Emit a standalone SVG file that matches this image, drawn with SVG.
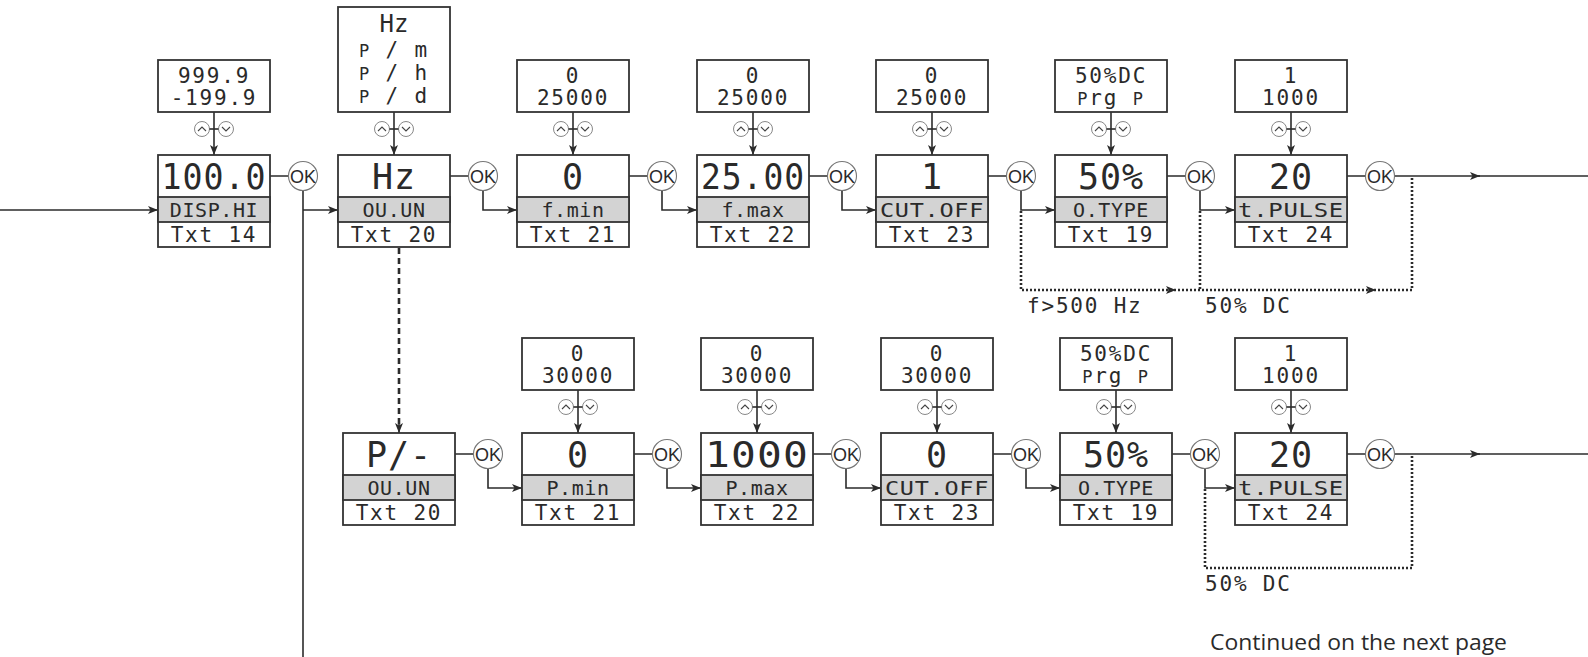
<svg xmlns="http://www.w3.org/2000/svg" width="1588" height="657" viewBox="0 0 1588 657">
<style>
.bx{fill:#fff;stroke:#333;stroke-width:1.8}
.bd{fill:#d3d3d3;stroke:#333;stroke-width:1.8}
.mono{font-family:"DejaVu Sans Mono","Liberation Mono",monospace;fill:#2a2a2a;text-anchor:middle}
.val{font-size:35px;letter-spacing:1px}
.gt{font-size:20px;letter-spacing:0.6px}
.tx{font-size:21px;letter-spacing:1.8px}
.tp{font-size:21px;letter-spacing:1.8px}
.lb{font-family:"DejaVu Sans Mono","Liberation Mono",monospace;fill:#2a2a2a;font-size:21px;letter-spacing:1.8px}
.sc{font-size:17px}
.ln{fill:none;stroke:#2b2b2b;stroke-width:1.6}
.dash{fill:none;stroke:#2b2b2b;stroke-width:2.6;stroke-dasharray:6 4}
.dot{fill:none;stroke:#2b2b2b;stroke-width:2.6;stroke-dasharray:2 2}
.ok{fill:#fff;stroke:#777;stroke-width:1.1}
.okt{font-family:"Liberation Sans",Arial,sans-serif;font-size:18px;fill:#2a2a2a;text-anchor:middle}
.btn{fill:#fff;stroke:#888;stroke-width:1}
.chev{fill:none;stroke:#444;stroke-width:1.1}
.note{font-family:"Open Sans","Liberation Sans",sans-serif;font-size:22px;fill:#2a2a2a}
</style>
<defs>
<marker id="ah" viewBox="0 0 10 8" markerWidth="10" markerHeight="8" refX="10" refY="4" orient="auto" markerUnits="userSpaceOnUse"><path d="M0,0 L10,4 L0,8 L2.5,4 z" fill="#2b2b2b"/></marker>
<g id="ud"><circle class="btn" cx="-12" cy="0" r="7.5"/><circle class="btn" cx="12" cy="0" r="7.5"/><line class="ln" x1="-4.5" y1="0" x2="4.5" y2="0" stroke-width="1.1"/><polyline class="chev" points="-16,2 -12,-2 -8,2"/><polyline class="chev" points="8,-2 12,2 16,-2"/></g>
</defs>

<g id="connectors">
<path class="ln" d="M0,210 H158" marker-end="url(#ah)"/>
<path class="ln" d="M214,112 V155" marker-end="url(#ah)"/>
<path class="ln" d="M394,112 V155" marker-end="url(#ah)"/>
<path class="ln" d="M573,112 V155" marker-end="url(#ah)"/>
<path class="ln" d="M753,112 V155" marker-end="url(#ah)"/>
<path class="ln" d="M932,112 V155" marker-end="url(#ah)"/>
<path class="ln" d="M1111,112 V155" marker-end="url(#ah)"/>
<path class="ln" d="M1291,112 V155" marker-end="url(#ah)"/>
<path class="ln" d="M578,390 V433" marker-end="url(#ah)"/>
<path class="ln" d="M757,390 V433" marker-end="url(#ah)"/>
<path class="ln" d="M937,390 V433" marker-end="url(#ah)"/>
<path class="ln" d="M1116,390 V433" marker-end="url(#ah)"/>
<path class="ln" d="M1291,390 V433" marker-end="url(#ah)"/>
<path class="ln" d="M270,176 H288.5 M450,176 H468.5 M629,176 H647.5 M809,176 H827.5 M988,176 H1006.5 M1167,176 H1185.5 M1347,176 H1365.5"/>
<path class="ln" d="M303,190.5 V657"/>
<path class="ln" d="M303,210 H338" marker-end="url(#ah)"/>
<path class="ln" d="M483,190.5 V210 H517" marker-end="url(#ah)"/>
<path class="ln" d="M662,190.5 V210 H697" marker-end="url(#ah)"/>
<path class="ln" d="M842,190.5 V210 H876" marker-end="url(#ah)"/>
<path class="ln" d="M1021,190.5 V210 H1055" marker-end="url(#ah)"/>
<path class="ln" d="M1200,190.5 V210 H1235" marker-end="url(#ah)"/>
<path class="ln" d="M1394.5,176 H1480" marker-end="url(#ah)"/>
<path class="ln" d="M1478,176 H1588"/>
<path class="ln" d="M455,454 H473.5 M634,454 H652.5 M813,454 H831.5 M993,454 H1011.5 M1172,454 H1190.5 M1347,454 H1365.5"/>
<path class="ln" d="M488,468.5 V488 H522" marker-end="url(#ah)"/>
<path class="ln" d="M667,468.5 V488 H701" marker-end="url(#ah)"/>
<path class="ln" d="M846,468.5 V488 H881" marker-end="url(#ah)"/>
<path class="ln" d="M1026,468.5 V488 H1060" marker-end="url(#ah)"/>
<path class="ln" d="M1205,468.5 V488 H1235" marker-end="url(#ah)"/>
<path class="ln" d="M1394.5,454 H1480" marker-end="url(#ah)"/>
<path class="ln" d="M1478,454 H1588"/>
<path class="dash" d="M399,248 V425"/>
<path class="ln" d="M399,424 V433" marker-end="url(#ah)"/>
<path class="dot" d="M1021,211 V290 H1412 V177"/>
<path class="dot" d="M1200,211 V290"/>
<polygon points="1176,290 1166,286 1168.5,290 1166,294" fill="#2b2b2b"/>
<polygon points="1376,290 1366,286 1368.5,290 1366,294" fill="#2b2b2b"/>
<path class="dot" d="M1205,489 V568 H1412 V455"/>
<use href="#ud" x="214" y="129"/>
<use href="#ud" x="394" y="129"/>
<use href="#ud" x="573" y="129"/>
<use href="#ud" x="753" y="129"/>
<use href="#ud" x="932" y="129"/>
<use href="#ud" x="1111" y="129"/>
<use href="#ud" x="1291" y="129"/>
<use href="#ud" x="578" y="407"/>
<use href="#ud" x="757" y="407"/>
<use href="#ud" x="937" y="407"/>
<use href="#ud" x="1116" y="407"/>
<use href="#ud" x="1291" y="407"/>
</g>

<g id="ok-buttons">
<g transform="translate(303,176)"><circle class="ok" r="14.5"/><text class="okt" y="6.5">OK</text></g>
<g transform="translate(483,176)"><circle class="ok" r="14.5"/><text class="okt" y="6.5">OK</text></g>
<g transform="translate(662,176)"><circle class="ok" r="14.5"/><text class="okt" y="6.5">OK</text></g>
<g transform="translate(842,176)"><circle class="ok" r="14.5"/><text class="okt" y="6.5">OK</text></g>
<g transform="translate(1021,176)"><circle class="ok" r="14.5"/><text class="okt" y="6.5">OK</text></g>
<g transform="translate(1200,176)"><circle class="ok" r="14.5"/><text class="okt" y="6.5">OK</text></g>
<g transform="translate(1380,176)"><circle class="ok" r="14.5"/><text class="okt" y="6.5">OK</text></g>
<g transform="translate(488,454)"><circle class="ok" r="14.5"/><text class="okt" y="6.5">OK</text></g>
<g transform="translate(667,454)"><circle class="ok" r="14.5"/><text class="okt" y="6.5">OK</text></g>
<g transform="translate(846,454)"><circle class="ok" r="14.5"/><text class="okt" y="6.5">OK</text></g>
<g transform="translate(1026,454)"><circle class="ok" r="14.5"/><text class="okt" y="6.5">OK</text></g>
<g transform="translate(1205,454)"><circle class="ok" r="14.5"/><text class="okt" y="6.5">OK</text></g>
<g transform="translate(1380,454)"><circle class="ok" r="14.5"/><text class="okt" y="6.5">OK</text></g>
</g>

<g id="range-disp-hi" transform="translate(158,60)"><rect class="bx" width="112" height="52"/><text class="mono tp" x="56" y="23">999.9</text><text class="mono tp" x="56" y="45">-199.9</text></g>
<g id="range-ou-un" transform="translate(338,7)"><rect class="bx" width="112" height="105"/><text class="mono" x="56" y="25" font-size="24">Hz</text><text class="mono tp" x="56" y="50"><tspan class="sc">P</tspan> / m</text><text class="mono tp" x="56" y="73"><tspan class="sc">P</tspan> / h</text><text class="mono tp" x="56" y="96"><tspan class="sc">P</tspan> / d</text></g>
<g id="range-f-min" transform="translate(517,60)"><rect class="bx" width="112" height="52"/><text class="mono tp" x="56" y="23">0</text><text class="mono tp" x="56" y="45">25000</text></g>
<g id="range-f-max" transform="translate(697,60)"><rect class="bx" width="112" height="52"/><text class="mono tp" x="56" y="23">0</text><text class="mono tp" x="56" y="45">25000</text></g>
<g id="range-cut-off" transform="translate(876,60)"><rect class="bx" width="112" height="52"/><text class="mono tp" x="56" y="23">0</text><text class="mono tp" x="56" y="45">25000</text></g>
<g id="range-o-type" transform="translate(1055,60)"><rect class="bx" width="112" height="52"/><text class="mono tp" x="56" y="23">50%DC</text><text class="mono tp" x="56" y="45"><tspan class="sc">P</tspan>rg <tspan class="sc">P</tspan></text></g>
<g id="range-t-pulse" transform="translate(1235,60)"><rect class="bx" width="112" height="52"/><text class="mono tp" x="56" y="23">1</text><text class="mono tp" x="56" y="45">1000</text></g>

<g id="disp-hi" transform="translate(158,155)"><rect class="bx" width="112" height="92"/><rect class="bd" y="42" width="112" height="25"/><text class="mono val" x="56" y="34" textLength="105" lengthAdjust="spacingAndGlyphs">100.0</text><text class="mono gt" x="56" y="62">DISP.HI</text><text class="mono tx" x="56" y="87">Txt 14</text></g>
<g id="ou-un-hz" transform="translate(338,155)"><rect class="bx" width="112" height="92"/><rect class="bd" y="42" width="112" height="25"/><text class="mono val" x="56" y="34">Hz</text><text class="mono gt" x="56" y="62">OU.UN</text><text class="mono tx" x="56" y="87">Txt 20</text></g>
<g id="f-min" transform="translate(517,155)"><rect class="bx" width="112" height="92"/><rect class="bd" y="42" width="112" height="25"/><text class="mono val" x="56" y="34">0</text><text class="mono gt" x="56" y="62">f.min</text><text class="mono tx" x="56" y="87">Txt 21</text></g>
<g id="f-max" transform="translate(697,155)"><rect class="bx" width="112" height="92"/><rect class="bd" y="42" width="112" height="25"/><text class="mono val" x="56" y="34" textLength="104" lengthAdjust="spacingAndGlyphs">25.00</text><text class="mono gt" x="56" y="62">f.max</text><text class="mono tx" x="56" y="87">Txt 22</text></g>
<g id="cut-off-1" transform="translate(876,155)"><rect class="bx" width="112" height="92"/><rect class="bd" y="42" width="112" height="25"/><text class="mono val" x="56" y="34">1</text><text class="mono gt" x="56" y="62" textLength="104" lengthAdjust="spacingAndGlyphs">CUT.OFF</text><text class="mono tx" x="56" y="87">Txt 23</text></g>
<g id="o-type-1" transform="translate(1055,155)"><rect class="bx" width="112" height="92"/><rect class="bd" y="42" width="112" height="25"/><text class="mono val" x="56" y="34">50%</text><text class="mono gt" x="56" y="62">O.TYPE</text><text class="mono tx" x="56" y="87">Txt 19</text></g>
<g id="t-pulse-1" transform="translate(1235,155)"><rect class="bx" width="112" height="92"/><rect class="bd" y="42" width="112" height="25"/><text class="mono val" x="56" y="34">20</text><text class="mono gt" x="56" y="62" textLength="106" lengthAdjust="spacingAndGlyphs">t.PULSE</text><text class="mono tx" x="56" y="87">Txt 24</text></g>

<g id="range-p-min" transform="translate(522,338)"><rect class="bx" width="112" height="52"/><text class="mono tp" x="56" y="23">0</text><text class="mono tp" x="56" y="45">30000</text></g>
<g id="range-p-max" transform="translate(701,338)"><rect class="bx" width="112" height="52"/><text class="mono tp" x="56" y="23">0</text><text class="mono tp" x="56" y="45">30000</text></g>
<g id="range-cut-off-2" transform="translate(881,338)"><rect class="bx" width="112" height="52"/><text class="mono tp" x="56" y="23">0</text><text class="mono tp" x="56" y="45">30000</text></g>
<g id="range-o-type-2" transform="translate(1060,338)"><rect class="bx" width="112" height="52"/><text class="mono tp" x="56" y="23">50%DC</text><text class="mono tp" x="56" y="45"><tspan class="sc">P</tspan>rg <tspan class="sc">P</tspan></text></g>
<g id="range-t-pulse-2" transform="translate(1235,338)"><rect class="bx" width="112" height="52"/><text class="mono tp" x="56" y="23">1</text><text class="mono tp" x="56" y="45">1000</text></g>

<g id="ou-un-p" transform="translate(343,433)"><rect class="bx" width="112" height="92"/><rect class="bd" y="42" width="112" height="25"/><text class="mono val" x="56" y="34">P/-</text><text class="mono gt" x="56" y="62">OU.UN</text><text class="mono tx" x="56" y="87">Txt 20</text></g>
<g id="p-min" transform="translate(522,433)"><rect class="bx" width="112" height="92"/><rect class="bd" y="42" width="112" height="25"/><text class="mono val" x="56" y="34">0</text><text class="mono gt" x="56" y="62">P.min</text><text class="mono tx" x="56" y="87">Txt 21</text></g>
<g id="p-max" transform="translate(701,433)"><rect class="bx" width="112" height="92"/><rect class="bd" y="42" width="112" height="25"/><text class="mono val" x="56" y="34" textLength="104" lengthAdjust="spacingAndGlyphs">1000</text><text class="mono gt" x="56" y="62">P.max</text><text class="mono tx" x="56" y="87">Txt 22</text></g>
<g id="cut-off-2" transform="translate(881,433)"><rect class="bx" width="112" height="92"/><rect class="bd" y="42" width="112" height="25"/><text class="mono val" x="56" y="34">0</text><text class="mono gt" x="56" y="62" textLength="104" lengthAdjust="spacingAndGlyphs">CUT.OFF</text><text class="mono tx" x="56" y="87">Txt 23</text></g>
<g id="o-type-2" transform="translate(1060,433)"><rect class="bx" width="112" height="92"/><rect class="bd" y="42" width="112" height="25"/><text class="mono val" x="56" y="34">50%</text><text class="mono gt" x="56" y="62">O.TYPE</text><text class="mono tx" x="56" y="87">Txt 19</text></g>
<g id="t-pulse-2" transform="translate(1235,433)"><rect class="bx" width="112" height="92"/><rect class="bd" y="42" width="112" height="25"/><text class="mono val" x="56" y="34">20</text><text class="mono gt" x="56" y="62" textLength="106" lengthAdjust="spacingAndGlyphs">t.PULSE</text><text class="mono tx" x="56" y="87">Txt 24</text></g>

<g id="labels">
<text class="lb" x="1027" y="313">f&gt;500 Hz</text>
<text class="lb" x="1205" y="313">50% DC</text>
<text class="lb" x="1205" y="591">50% DC</text>
<text class="note" x="1210" y="650" textLength="297" lengthAdjust="spacingAndGlyphs">Continued on the next page</text>
</g>
</svg>
